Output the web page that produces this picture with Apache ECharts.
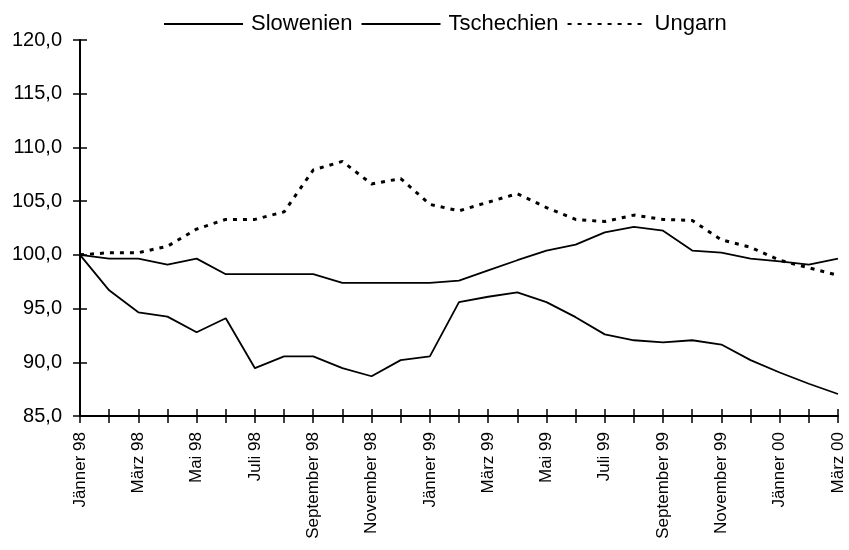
<!DOCTYPE html>
<html><head><meta charset="utf-8">
<script src="https://cdn.jsdelivr.net/npm/echarts@6/dist/echarts.min.js"></script>
<style>html,body{margin:0;padding:0;background:#fff}#c{width:849px;height:550px}</style>
</head><body><div id="c"></div>
<script>
const months = ["Jänner 98","Februar 98","März 98","April 98","Mai 98","Juni 98","Juli 98","August 98","September 98","Oktober 98","November 98","Dezember 98","Jänner 99","Februar 99","März 99","April 99","Mai 99","Juni 99","Juli 99","August 99","September 99","Oktober 99","November 99","Dezember 99","Jänner 00","Februar 00","März 00"];
const slowenien = [100.0,99.65,99.65,99.1,99.65,98.2,98.2,98.2,98.2,97.4,97.4,97.4,97.4,97.6,98.55,99.5,100.4,100.95,102.1,102.6,102.25,100.4,100.2,99.65,99.4,99.1,99.65];
const tschechien = [100.0,96.7,94.65,94.25,92.8,94.1,89.45,90.55,90.55,89.45,88.7,90.2,90.55,95.6,96.1,96.5,95.6,94.2,92.6,92.05,91.85,92.05,91.65,90.2,89.05,88.0,87.05];
const ungarn = [100.0,100.2,100.2,100.8,102.4,103.3,103.3,104.0,107.9,108.7,106.6,107.1,104.7,104.1,104.9,105.7,104.4,103.3,103.1,103.7,103.3,103.2,101.4,100.7,99.5,98.8,98.1];
const yMin = 85, yMax = 120, yStep = 5;

const chart = echarts.init(document.getElementById('c'));
const font = 'Liberation Sans, Arial, sans-serif';
chart.setOption({
  animation: false,
  backgroundColor: '#fff',
  legend: {
    top: 8, left: 158, itemWidth: 79, itemHeight: 14, itemGap: 8,
    itemStyle: {opacity: 0},
    textStyle: {fontFamily: font, fontSize: 22, color: '#000', padding: [0, 0, 0, 3]},
    data: ['Slowenien', 'Tschechien', 'Ungarn']
  },
  grid: {left: 80, right: 11, top: 40, bottom: 134},
  xAxis: [{
    type: 'category', data: months, boundaryGap: false,
    axisLine: {lineStyle: {color: '#000', width: 2}},
    axisTick: {show: true, length: 7, interval: 0, lineStyle: {color: '#000', width: 1.5}},
    axisLabel: {interval: 1, rotate: 90, color: '#000', fontFamily: font, fontSize: 17, margin: 16},
    splitLine: {show: false}
  }, {
    type: 'category', data: months, boundaryGap: false, position: 'bottom',
    axisLine: {show: false},
    axisTick: {show: true, inside: true, length: 7, interval: 0, lineStyle: {color: '#000', width: 1.5}},
    axisLabel: {show: false}, splitLine: {show: false}
  }],
  yAxis: [{
    type: 'value', min: yMin, max: yMax, interval: yStep,
    axisLine: {show: true, lineStyle: {color: '#000', width: 2}},
    axisTick: {show: true, length: 7, lineStyle: {color: '#000', width: 1.5}},
    axisLabel: {color: '#000', fontFamily: font, fontSize: 20, margin: 18,
      formatter: v => v.toFixed(1).replace('.', ',')},
    splitLine: {show: false}
  }, {
    type: 'value', min: yMin, max: yMax, interval: yStep, position: 'left',
    axisLine: {show: false},
    axisTick: {show: true, inside: true, length: 7, lineStyle: {color: '#000', width: 1.5}},
    axisLabel: {show: false}, splitLine: {show: false}
  }],
  series: [
    {name: 'Slowenien', type: 'line', data: slowenien, symbol: 'none', color: '#000',
      lineStyle: {color: '#000', width: 1.8}},
    {name: 'Tschechien', type: 'line', data: tschechien, symbol: 'none', color: '#000',
      lineStyle: {color: '#000', width: 1.8}},
    {name: 'Ungarn', type: 'line', data: ungarn, symbol: 'none', color: '#000',
      lineStyle: {color: '#000', width: 3, type: [4, 6]}}
  ]
});
</script></body></html>
